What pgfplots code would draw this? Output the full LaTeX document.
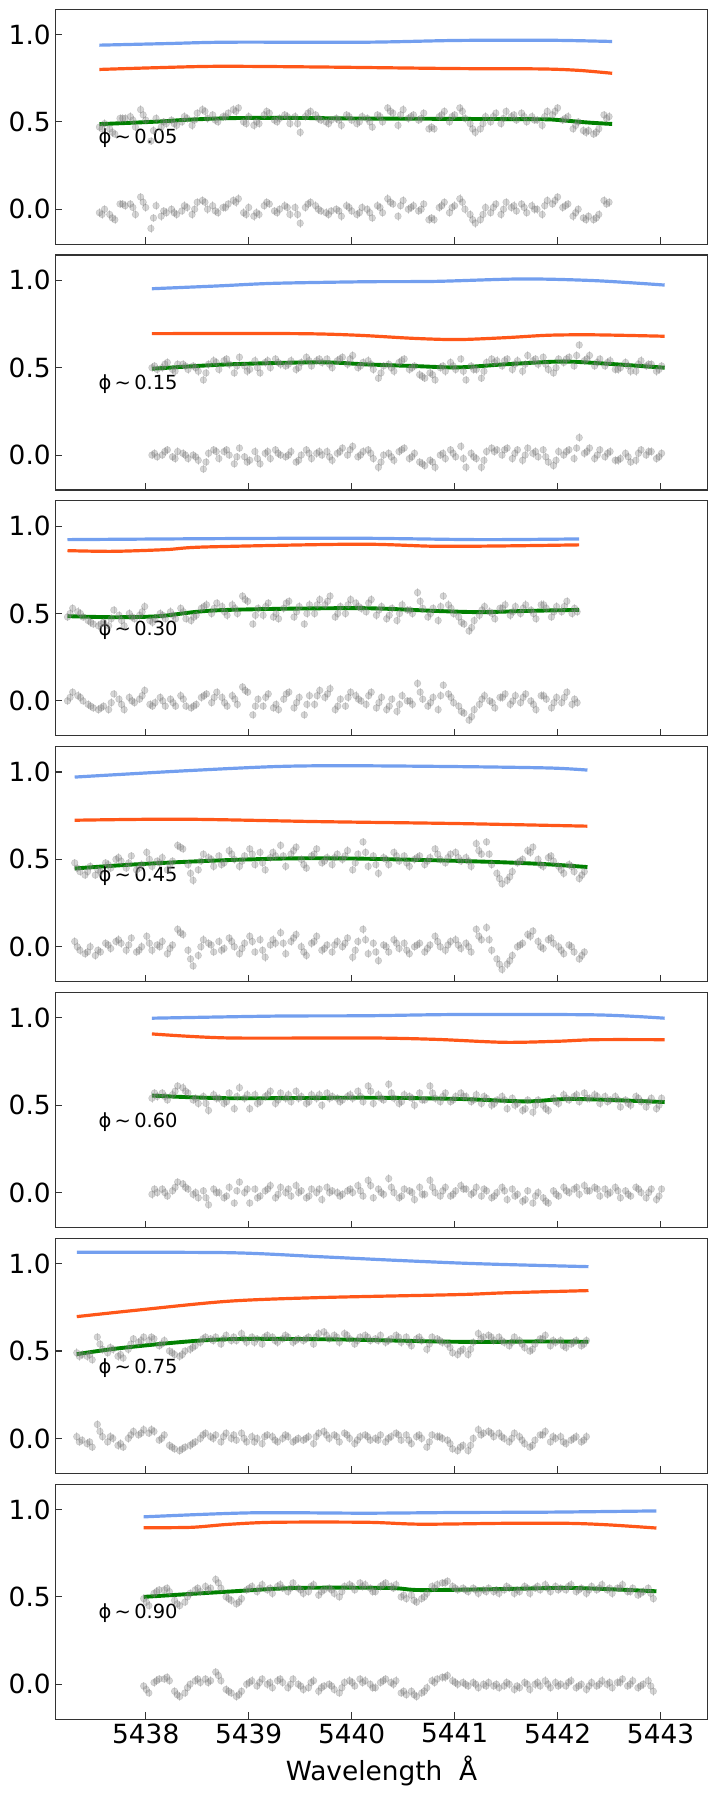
\documentclass[border=0pt]{standalone}
\usepackage{fontspec}
\setmainfont{DejaVu Sans}
\usepackage{pgfplots}
\usepackage{pgfplotstable}
\pgfplotsset{compat=1.18}

\definecolor{cblue}{RGB}{100,149,237}
\definecolor{ored}{RGB}{255,69,0}
\definecolor{mgreen}{RGB}{0,128,0}
\definecolor{spine}{RGB}{51,51,51}

% circle with a short error bar through it
\pgfdeclareplotmark{ebar}{%
  \pgfpathmoveto{\pgfqpoint{0pt}{-3.1pt}}%
  \pgfpathlineto{\pgfqpoint{0pt}{3.1pt}}%
  \pgfusepathqstroke
  \pgfpathcircle{\pgfpointorigin}{\pgfplotmarksize}%
  \pgfusepathqfillstroke}

% columns: wavelength, spectrum, residual
\pgfplotstableread{
x d r
5437.55 0.47 -0.02
5437.60 0.49 0.00
5437.65 0.46 -0.03
5437.70 0.43 -0.06
5437.75 0.52 0.03
5437.80 0.52 0.02
5437.85 0.53 0.03
5437.90 0.47 -0.03
5437.95 0.57 0.07
5438.00 0.51 0.01
5438.05 0.39 -0.11
5438.10 0.52 0.02
5438.15 0.47 -0.04
5438.20 0.49 -0.02
5438.25 0.51 0.00
5438.30 0.48 -0.03
5438.35 0.50 -0.01
5438.40 0.52 0.01
5438.45 0.48 -0.03
5438.50 0.55 0.04
5438.55 0.57 0.05
5438.60 0.52 0.00
5438.65 0.54 0.02
5438.70 0.50 -0.02
5438.75 0.53 0.01
5438.80 0.55 0.03
5438.85 0.57 0.05
5438.90 0.58 0.06
5438.95 0.50 -0.02
5439.00 0.53 0.01
5439.05 0.48 -0.04
5439.10 0.49 -0.03
5439.15 0.54 0.02
5439.20 0.55 0.03
5439.25 0.51 -0.01
5439.30 0.52 0.00
5439.35 0.54 0.02
5439.40 0.49 -0.03
5439.45 0.53 0.01
5439.50 0.44 -0.08
5439.55 0.53 0.01
5439.60 0.56 0.04
5439.65 0.54 0.02
5439.70 0.51 -0.01
5439.75 0.50 -0.02
5439.80 0.51 -0.01
5439.85 0.52 0.00
5439.90 0.48 -0.04
5439.95 0.54 0.02
5440.00 0.51 -0.01
5440.05 0.49 -0.03
5440.10 0.53 0.01
5440.15 0.52 0.00
5440.20 0.47 -0.05
5440.25 0.54 0.02
5440.30 0.50 -0.02
5440.35 0.58 0.06
5440.40 0.55 0.03
5440.45 0.48 -0.04
5440.50 0.57 0.05
5440.55 0.52 0.00
5440.60 0.54 0.02
5440.65 0.51 -0.01
5440.70 0.55 0.03
5440.75 0.46 -0.06
5440.80 0.46 -0.06
5440.85 0.53 0.01
5440.90 0.56 0.04
5440.95 0.50 -0.02
5441.00 0.54 0.02
5441.05 0.58 0.06
5441.10 0.52 0.00
5441.15 0.49 -0.03
5441.20 0.44 -0.08
5441.25 0.46 -0.06
5441.30 0.53 0.01
5441.35 0.50 -0.02
5441.40 0.55 0.03
5441.45 0.49 -0.03
5441.50 0.56 0.04
5441.55 0.53 0.01
5441.60 0.51 -0.01
5441.65 0.55 0.03
5441.70 0.50 -0.02
5441.75 0.53 0.02
5441.80 0.51 0.00
5441.85 0.48 -0.03
5441.90 0.56 0.05
5441.95 0.54 0.03
5442.00 0.58 0.07
5442.05 0.51 0.01
5442.10 0.53 0.03
5442.15 0.46 -0.04
5442.20 0.50 0.00
5442.25 0.45 -0.05
5442.30 0.45 -0.04
5442.35 0.43 -0.06
5442.40 0.46 -0.03
5442.45 0.54 0.05
5442.50 0.53 0.04
5437.575 0.46 -0.03
5437.675 0.44 -0.05
5437.775 0.52 0.03
5437.875 0.51 0.01
5437.975 0.54 0.04
5438.075 0.45 -0.05
5438.175 0.50 -0.01
5438.275 0.49 -0.02
5438.375 0.53 0.02
5438.475 0.51 0.00
5438.575 0.56 0.04
5438.675 0.51 -0.01
5438.775 0.53 0.01
5438.875 0.56 0.04
5438.975 0.49 -0.03
5439.075 0.50 -0.02
5439.175 0.56 0.04
5439.275 0.50 -0.02
5439.375 0.53 0.01
5439.475 0.49 -0.03
5439.575 0.55 0.03
5439.675 0.52 0.00
5439.775 0.49 -0.03
5439.875 0.51 -0.01
5439.975 0.53 0.01
5440.075 0.50 -0.02
5440.175 0.50 -0.02
5440.275 0.53 0.01
5440.375 0.56 0.04
5440.475 0.54 0.02
5440.575 0.53 0.01
5440.675 0.52 0.00
5440.775 0.47 -0.05
5440.875 0.54 0.02
5440.975 0.53 0.01
5441.075 0.56 0.04
5441.175 0.46 -0.06
5441.275 0.49 -0.03
5441.375 0.53 0.01
5441.475 0.52 0.00
5441.575 0.54 0.02
5441.675 0.53 0.01
5441.775 0.51 0.00
5441.875 0.53 0.02
5441.975 0.56 0.05
5442.075 0.52 0.02
5442.175 0.48 -0.02
5442.275 0.44 -0.06
5442.375 0.44 -0.05
5442.475 0.52 0.03
}\phaseA

\pgfplotstableread{
x d r
5438.06 0.50 0.00
5438.11 0.49 -0.01
5438.16 0.50 0.00
5438.21 0.53 0.03
5438.26 0.49 -0.01
5438.31 0.52 0.02
5438.36 0.52 0.01
5438.41 0.49 -0.02
5438.46 0.51 0.00
5438.51 0.48 -0.03
5438.56 0.43 -0.08
5438.61 0.52 0.01
5438.66 0.54 0.03
5438.71 0.49 -0.02
5438.76 0.54 0.02
5438.81 0.52 0.00
5438.86 0.47 -0.05
5438.91 0.56 0.04
5438.96 0.51 -0.01
5439.01 0.49 -0.03
5439.06 0.54 0.02
5439.11 0.47 -0.05
5439.16 0.53 0.01
5439.21 0.50 -0.02
5439.26 0.55 0.03
5439.31 0.52 0.00
5439.36 0.51 -0.01
5439.41 0.54 0.02
5439.46 0.49 -0.04
5439.51 0.53 0.00
5439.56 0.56 0.03
5439.61 0.51 -0.02
5439.66 0.54 0.01
5439.71 0.53 0.00
5439.76 0.55 0.02
5439.81 0.50 -0.03
5439.86 0.54 0.01
5439.91 0.56 0.04
5439.96 0.52 0.00
5440.01 0.57 0.05
5440.06 0.50 -0.01
5440.11 0.53 0.02
5440.16 0.54 0.03
5440.21 0.49 -0.02
5440.26 0.44 -0.07
5440.31 0.51 0.00
5440.36 0.52 0.01
5440.41 0.48 -0.03
5440.46 0.53 0.02
5440.51 0.55 0.04
5440.56 0.49 -0.02
5440.61 0.51 0.01
5440.66 0.46 -0.04
5440.71 0.44 -0.06
5440.76 0.47 -0.03
5440.81 0.43 -0.07
5440.86 0.50 0.00
5440.91 0.48 -0.02
5440.96 0.53 0.03
5441.01 0.49 -0.01
5441.06 0.55 0.05
5441.11 0.43 -0.07
5441.16 0.51 0.01
5441.21 0.49 -0.02
5441.26 0.44 -0.07
5441.31 0.53 0.02
5441.36 0.55 0.04
5441.41 0.54 0.03
5441.46 0.51 0.00
5441.51 0.55 0.04
5441.56 0.49 -0.02
5441.61 0.54 0.03
5441.66 0.48 -0.03
5441.71 0.57 0.04
5441.76 0.54 0.01
5441.81 0.52 -0.01
5441.86 0.56 0.03
5441.91 0.49 -0.04
5441.96 0.47 -0.06
5442.01 0.55 0.02
5442.06 0.53 0.00
5442.11 0.56 0.03
5442.16 0.51 -0.02
5442.21 0.63 0.10
5442.26 0.54 0.01
5442.31 0.57 0.04
5442.36 0.51 -0.02
5442.41 0.55 0.03
5442.46 0.51 -0.01
5442.51 0.54 0.02
5442.56 0.49 -0.03
5442.61 0.50 -0.02
5442.66 0.53 0.01
5442.71 0.48 -0.04
5442.76 0.48 -0.03
5442.81 0.54 0.03
5442.86 0.51 0.00
5442.91 0.52 0.02
5442.96 0.48 -0.02
5443.01 0.51 0.01
5438.085 0.51 0.01
5438.185 0.52 0.02
5438.285 0.48 -0.02
5438.385 0.51 0.00
5438.485 0.50 -0.01
5438.585 0.47 -0.04
5438.685 0.53 0.02
5438.785 0.55 0.03
5438.885 0.51 -0.01
5438.985 0.48 -0.04
5439.085 0.50 -0.02
5439.185 0.54 0.02
5439.285 0.53 0.01
5439.385 0.52 0.00
5439.485 0.50 -0.03
5439.585 0.54 0.01
5439.685 0.55 0.02
5439.785 0.52 -0.01
5439.885 0.55 0.02
5439.985 0.55 0.03
5440.085 0.51 0.00
5440.185 0.52 0.01
5440.285 0.47 -0.04
5440.385 0.50 -0.01
5440.485 0.54 0.03
5440.585 0.50 -0.01
5440.685 0.45 -0.05
5440.785 0.46 -0.04
5440.885 0.51 0.01
5440.985 0.51 0.01
5441.085 0.48 -0.02
5441.185 0.49 -0.01
5441.285 0.48 -0.03
5441.385 0.53 0.02
5441.485 0.54 0.03
5441.585 0.52 0.01
5441.685 0.52 0.00
5441.785 0.55 0.02
5441.885 0.52 -0.01
5441.985 0.50 -0.03
5442.085 0.55 0.02
5442.185 0.57 0.04
5442.285 0.55 0.02
5442.385 0.53 0.00
5442.485 0.53 0.01
5442.585 0.49 -0.03
5442.685 0.51 -0.01
5442.785 0.52 0.01
5442.885 0.52 0.02
5442.985 0.49 -0.01
}\phaseB

\pgfplotstableread{
x d r
5437.24 0.48 0.00
5437.29 0.53 0.05
5437.34 0.51 0.03
5437.39 0.48 0.00
5437.44 0.46 -0.02
5437.49 0.44 -0.04
5437.54 0.43 -0.05
5437.59 0.45 -0.03
5437.64 0.43 -0.05
5437.69 0.52 0.04
5437.74 0.49 0.01
5437.79 0.43 -0.05
5437.84 0.50 0.02
5437.89 0.47 -0.01
5437.94 0.49 0.01
5437.99 0.54 0.06
5438.04 0.46 -0.02
5438.09 0.47 -0.01
5438.14 0.50 0.02
5438.19 0.47 -0.03
5438.24 0.51 0.01
5438.29 0.47 -0.03
5438.34 0.53 0.03
5438.39 0.47 -0.03
5438.44 0.46 -0.04
5438.49 0.49 -0.02
5438.54 0.53 0.02
5438.59 0.55 0.04
5438.64 0.50 -0.01
5438.69 0.56 0.05
5438.74 0.54 0.02
5438.79 0.49 -0.03
5438.84 0.55 0.03
5438.89 0.50 -0.02
5438.94 0.60 0.08
5438.99 0.57 0.05
5439.04 0.44 -0.08
5439.09 0.53 0.01
5439.14 0.49 -0.03
5439.19 0.56 0.04
5439.24 0.48 -0.04
5439.29 0.47 -0.05
5439.34 0.53 0.01
5439.39 0.57 0.05
5439.44 0.48 -0.04
5439.49 0.54 0.02
5439.54 0.44 -0.08
5439.59 0.55 0.03
5439.64 0.50 -0.02
5439.69 0.58 0.06
5439.74 0.55 0.02
5439.79 0.60 0.07
5439.84 0.48 -0.05
5439.89 0.54 0.01
5439.94 0.50 -0.03
5439.99 0.58 0.05
5440.04 0.56 0.03
5440.09 0.53 0.00
5440.14 0.51 -0.02
5440.19 0.58 0.05
5440.24 0.49 -0.04
5440.29 0.54 0.02
5440.34 0.47 -0.05
5440.39 0.53 0.01
5440.44 0.46 -0.06
5440.49 0.55 0.03
5440.54 0.52 0.00
5440.59 0.50 -0.02
5440.64 0.62 0.10
5440.69 0.53 0.01
5440.74 0.48 -0.03
5440.79 0.53 0.02
5440.84 0.46 -0.05
5440.89 0.60 0.09
5440.94 0.55 0.04
5440.99 0.50 -0.01
5441.04 0.48 -0.03
5441.09 0.44 -0.07
5441.14 0.40 -0.11
5441.19 0.46 -0.05
5441.24 0.49 -0.02
5441.29 0.54 0.03
5441.34 0.51 0.00
5441.39 0.47 -0.04
5441.44 0.53 0.02
5441.49 0.55 0.04
5441.54 0.49 -0.02
5441.59 0.54 0.03
5441.64 0.50 -0.01
5441.69 0.55 0.04
5441.74 0.52 0.00
5441.79 0.47 -0.05
5441.84 0.55 0.03
5441.89 0.53 0.01
5441.94 0.48 -0.04
5441.99 0.54 0.02
5442.04 0.51 -0.01
5442.09 0.57 0.05
5442.14 0.50 -0.02
5442.19 0.51 -0.01
5437.265 0.50 0.02
5437.365 0.50 0.02
5437.465 0.45 -0.03
5437.565 0.44 -0.04
5437.665 0.47 -0.01
5437.765 0.46 -0.02
5437.865 0.48 0.00
5437.965 0.51 0.03
5438.065 0.45 -0.03
5438.165 0.49 0.00
5438.265 0.49 -0.01
5438.365 0.51 0.01
5438.465 0.48 -0.03
5438.565 0.54 0.03
5438.665 0.53 0.02
5438.765 0.51 -0.01
5438.865 0.53 0.01
5438.965 0.58 0.06
5439.065 0.49 -0.03
5439.165 0.54 0.02
5439.265 0.50 -0.02
5439.365 0.56 0.04
5439.465 0.51 -0.01
5439.565 0.50 -0.02
5439.665 0.55 0.03
5439.765 0.57 0.04
5439.865 0.50 -0.03
5439.965 0.55 0.02
5440.065 0.54 0.01
5440.165 0.56 0.03
5440.265 0.52 -0.01
5440.365 0.49 -0.03
5440.465 0.50 -0.02
5440.565 0.52 0.00
5440.665 0.57 0.05
5440.765 0.50 -0.01
5440.865 0.54 0.03
5440.965 0.53 0.02
5441.065 0.45 -0.06
5441.165 0.42 -0.09
5441.265 0.52 0.01
5441.365 0.50 -0.01
5441.465 0.53 0.02
5441.565 0.51 0.00
5441.665 0.53 0.02
5441.765 0.50 -0.02
5441.865 0.55 0.03
5441.965 0.51 -0.01
5442.065 0.54 0.02
5442.165 0.53 0.01
}\phaseC

\pgfplotstableread{
x d r
5437.31 0.48 0.03
5437.36 0.43 -0.02
5437.41 0.41 -0.04
5437.46 0.46 0.00
5437.51 0.41 -0.05
5437.56 0.43 -0.03
5437.61 0.48 0.02
5437.66 0.45 -0.01
5437.71 0.50 0.03
5437.76 0.49 0.02
5437.81 0.45 -0.02
5437.86 0.52 0.05
5437.91 0.44 -0.03
5437.96 0.47 0.00
5438.01 0.54 0.06
5438.06 0.46 -0.02
5438.11 0.49 0.01
5438.16 0.51 0.03
5438.21 0.44 -0.04
5438.26 0.49 0.01
5438.31 0.58 0.10
5438.36 0.56 0.07
5438.41 0.47 -0.02
5438.46 0.38 -0.11
5438.51 0.44 -0.05
5438.56 0.53 0.04
5438.61 0.51 0.02
5438.66 0.46 -0.03
5438.71 0.52 0.03
5438.76 0.48 -0.01
5438.81 0.55 0.05
5438.86 0.50 0.00
5438.91 0.46 -0.04
5438.96 0.52 0.02
5439.01 0.56 0.06
5439.06 0.47 -0.03
5439.11 0.54 0.04
5439.16 0.44 -0.06
5439.21 0.51 0.01
5439.26 0.52 0.02
5439.31 0.58 0.08
5439.36 0.46 -0.04
5439.41 0.53 0.03
5439.46 0.57 0.07
5439.51 0.50 0.00
5439.56 0.45 -0.05
5439.61 0.52 0.02
5439.66 0.56 0.06
5439.71 0.48 -0.02
5439.76 0.51 0.01
5439.81 0.47 -0.03
5439.86 0.53 0.03
5439.91 0.50 0.00
5439.96 0.55 0.05
5440.01 0.44 -0.06
5440.06 0.53 0.03
5440.11 0.60 0.10
5440.16 0.46 -0.04
5440.21 0.52 0.02
5440.26 0.42 -0.08
5440.31 0.51 0.01
5440.36 0.47 -0.03
5440.41 0.54 0.04
5440.46 0.49 -0.01
5440.51 0.52 0.02
5440.56 0.46 -0.04
5440.61 0.50 0.00
5440.66 0.52 0.02
5440.71 0.47 -0.03
5440.76 0.51 0.01
5440.81 0.56 0.06
5440.86 0.50 0.00
5440.91 0.48 -0.02
5440.96 0.53 0.03
5441.01 0.54 0.04
5441.06 0.49 -0.01
5441.11 0.51 0.02
5441.16 0.46 -0.03
5441.21 0.59 0.10
5441.26 0.53 0.04
5441.31 0.60 0.11
5441.36 0.47 -0.02
5441.41 0.42 -0.07
5441.46 0.36 -0.13
5441.51 0.38 -0.10
5441.56 0.43 -0.05
5441.61 0.48 0.00
5441.66 0.50 0.02
5441.71 0.55 0.07
5441.76 0.57 0.09
5441.81 0.50 0.03
5441.86 0.46 -0.01
5441.91 0.51 0.04
5441.96 0.49 0.02
5442.01 0.46 0.00
5442.06 0.42 -0.04
5442.11 0.47 0.01
5442.16 0.43 -0.03
5442.21 0.39 -0.07
5442.26 0.43 -0.03
5437.335 0.45 0.00
5437.435 0.43 -0.03
5437.535 0.44 -0.02
5437.635 0.47 0.01
5437.735 0.51 0.04
5437.835 0.48 0.01
5437.935 0.45 -0.02
5438.035 0.50 0.02
5438.135 0.48 0.00
5438.235 0.47 -0.01
5438.335 0.57 0.08
5438.435 0.42 -0.07
5438.535 0.49 0.00
5438.635 0.50 0.01
5438.735 0.47 -0.02
5438.835 0.53 0.03
5438.935 0.49 -0.01
5439.035 0.53 0.03
5439.135 0.48 -0.02
5439.235 0.54 0.04
5439.335 0.52 0.02
5439.435 0.55 0.05
5439.535 0.47 -0.03
5439.635 0.53 0.03
5439.735 0.49 -0.01
5439.835 0.51 0.01
5439.935 0.52 0.02
5440.035 0.48 -0.02
5440.135 0.54 0.04
5440.235 0.47 -0.03
5440.335 0.50 0.00
5440.435 0.52 0.02
5440.535 0.48 -0.02
5440.635 0.51 0.01
5440.735 0.49 -0.01
5440.835 0.53 0.03
5440.935 0.51 0.01
5441.035 0.51 0.01
5441.135 0.49 0.00
5441.235 0.55 0.06
5441.335 0.53 0.04
5441.435 0.39 -0.10
5441.535 0.40 -0.08
5441.635 0.49 0.01
5441.735 0.54 0.06
5441.835 0.47 0.00
5441.935 0.52 0.05
5442.035 0.44 -0.02
5442.135 0.46 0.00
5442.235 0.41 -0.05
}\phaseD

\pgfplotstableread{
x d r
5438.06 0.54 -0.01
5438.11 0.55 0.00
5438.16 0.57 0.02
5438.21 0.53 -0.02
5438.26 0.56 0.01
5438.31 0.61 0.06
5438.36 0.60 0.05
5438.41 0.57 0.02
5438.46 0.53 -0.01
5438.51 0.51 -0.03
5438.56 0.55 0.01
5438.61 0.47 -0.07
5438.66 0.56 0.02
5438.71 0.54 0.00
5438.76 0.51 -0.03
5438.81 0.57 0.03
5438.86 0.48 -0.06
5438.91 0.60 0.06
5438.96 0.54 0.00
5439.01 0.48 -0.06
5439.06 0.56 0.02
5439.11 0.52 -0.02
5439.16 0.55 0.01
5439.21 0.58 0.04
5439.26 0.51 -0.03
5439.31 0.57 0.03
5439.36 0.54 0.00
5439.41 0.52 -0.02
5439.46 0.58 0.04
5439.51 0.55 0.01
5439.56 0.51 -0.03
5439.61 0.56 0.02
5439.66 0.54 0.00
5439.71 0.50 -0.04
5439.76 0.57 0.03
5439.81 0.55 0.01
5439.86 0.54 0.00
5439.91 0.53 -0.01
5439.96 0.55 0.01
5440.01 0.54 0.00
5440.06 0.58 0.04
5440.11 0.52 -0.02
5440.16 0.61 0.07
5440.21 0.51 -0.03
5440.26 0.56 0.02
5440.31 0.53 -0.01
5440.36 0.62 0.08
5440.41 0.54 0.00
5440.46 0.51 -0.03
5440.51 0.56 0.02
5440.56 0.55 0.01
5440.61 0.50 -0.04
5440.66 0.57 0.03
5440.71 0.53 -0.01
5440.76 0.61 0.07
5440.81 0.54 0.00
5440.86 0.52 -0.02
5440.91 0.57 0.03
5440.96 0.52 -0.02
5441.01 0.55 0.01
5441.06 0.57 0.04
5441.11 0.55 0.02
5441.16 0.52 -0.01
5441.21 0.56 0.03
5441.26 0.51 -0.02
5441.31 0.54 0.01
5441.36 0.50 -0.03
5441.41 0.53 0.00
5441.46 0.55 0.03
5441.51 0.48 -0.04
5441.56 0.54 0.02
5441.61 0.51 -0.01
5441.66 0.47 -0.05
5441.71 0.53 0.01
5441.76 0.46 -0.06
5441.81 0.53 0.00
5441.86 0.50 -0.03
5441.91 0.47 -0.06
5441.96 0.54 0.01
5442.01 0.51 -0.02
5442.06 0.56 0.03
5442.11 0.53 0.00
5442.16 0.55 0.02
5442.21 0.52 -0.01
5442.26 0.57 0.04
5442.31 0.54 0.01
5442.36 0.56 0.03
5442.41 0.51 -0.02
5442.46 0.55 0.02
5442.51 0.53 0.00
5442.56 0.55 0.03
5442.61 0.49 -0.03
5442.66 0.53 0.01
5442.71 0.50 -0.02
5442.76 0.55 0.03
5442.81 0.52 0.00
5442.86 0.49 -0.03
5442.91 0.54 0.02
5442.96 0.48 -0.04
5443.01 0.54 0.02
5438.085 0.57 0.02
5438.185 0.55 0.00
5438.285 0.58 0.03
5438.385 0.58 0.03
5438.485 0.54 0.00
5438.585 0.51 -0.03
5438.685 0.54 0.00
5438.785 0.52 -0.02
5438.885 0.55 0.01
5438.985 0.56 0.02
5439.085 0.51 -0.03
5439.185 0.56 0.02
5439.285 0.53 -0.01
5439.385 0.56 0.02
5439.485 0.54 0.00
5439.585 0.52 -0.02
5439.685 0.56 0.02
5439.785 0.54 0.00
5439.885 0.52 -0.02
5439.985 0.56 0.02
5440.085 0.55 0.01
5440.185 0.58 0.04
5440.285 0.54 0.00
5440.385 0.57 0.03
5440.485 0.52 -0.02
5440.585 0.54 0.00
5440.685 0.53 -0.01
5440.785 0.57 0.03
5440.885 0.55 0.01
5440.985 0.53 -0.01
5441.085 0.55 0.02
5441.185 0.53 0.00
5441.285 0.55 0.02
5441.385 0.51 -0.02
5441.485 0.53 0.01
5441.585 0.50 -0.02
5441.685 0.48 -0.04
5441.785 0.50 -0.02
5441.885 0.48 -0.05
5441.985 0.52 -0.01
5442.085 0.54 0.01
5442.185 0.56 0.03
5442.285 0.54 0.01
5442.385 0.55 0.02
5442.485 0.52 -0.01
5442.585 0.53 0.01
5442.685 0.51 -0.01
5442.785 0.54 0.02
5442.885 0.52 0.00
5442.985 0.50 -0.02
}\phaseE

\pgfplotstableread{
x d r
5437.33 0.49 0.01
5437.38 0.48 -0.01
5437.43 0.47 -0.03
5437.48 0.45 -0.05
5437.53 0.58 0.08
5437.58 0.51 0.01
5437.63 0.49 -0.02
5437.68 0.51 0.00
5437.73 0.47 -0.04
5437.78 0.46 -0.05
5437.83 0.51 0.00
5437.88 0.57 0.04
5437.93 0.55 0.02
5437.98 0.58 0.05
5438.03 0.56 0.03
5438.08 0.57 0.04
5438.13 0.53 -0.01
5438.18 0.56 0.02
5438.23 0.50 -0.04
5438.28 0.48 -0.06
5438.33 0.47 -0.07
5438.38 0.50 -0.05
5438.43 0.51 -0.04
5438.48 0.53 -0.02
5438.53 0.55 0.00
5438.58 0.58 0.03
5438.63 0.57 0.01
5438.68 0.58 0.02
5438.73 0.54 -0.02
5438.78 0.59 0.03
5438.83 0.56 0.00
5438.88 0.56 -0.01
5438.93 0.60 0.03
5438.98 0.55 -0.02
5439.03 0.58 0.01
5439.08 0.57 0.00
5439.13 0.54 -0.03
5439.18 0.59 0.02
5439.23 0.58 0.01
5439.28 0.55 -0.02
5439.33 0.57 0.00
5439.38 0.58 0.01
5439.43 0.55 -0.02
5439.48 0.57 0.00
5439.53 0.56 -0.01
5439.58 0.58 0.01
5439.63 0.54 -0.03
5439.68 0.60 0.03
5439.73 0.61 0.04
5439.78 0.57 0.00
5439.83 0.59 0.02
5439.88 0.55 -0.02
5439.93 0.60 0.03
5439.98 0.57 0.00
5440.03 0.54 -0.03
5440.08 0.58 0.01
5440.13 0.59 0.02
5440.18 0.56 -0.01
5440.23 0.57 0.00
5440.28 0.59 0.02
5440.33 0.55 -0.02
5440.38 0.57 0.01
5440.43 0.59 0.03
5440.48 0.55 -0.01
5440.53 0.58 0.02
5440.58 0.53 -0.03
5440.63 0.57 0.01
5440.68 0.56 0.00
5440.73 0.51 -0.05
5440.78 0.58 0.02
5440.83 0.57 0.01
5440.88 0.55 0.00
5440.93 0.54 -0.01
5440.98 0.49 -0.06
5441.03 0.48 -0.07
5441.08 0.51 -0.04
5441.13 0.48 -0.07
5441.18 0.55 0.00
5441.23 0.60 0.05
5441.28 0.58 0.03
5441.33 0.59 0.04
5441.38 0.56 0.01
5441.43 0.58 0.03
5441.48 0.55 0.00
5441.53 0.53 -0.02
5441.58 0.58 0.03
5441.63 0.56 0.01
5441.68 0.52 -0.03
5441.73 0.50 -0.05
5441.78 0.54 -0.01
5441.83 0.57 0.02
5441.88 0.59 0.04
5441.93 0.53 -0.02
5441.98 0.55 0.00
5442.03 0.56 0.01
5442.08 0.52 -0.03
5442.13 0.54 -0.01
5442.18 0.56 0.01
5442.23 0.53 -0.02
5442.28 0.56 0.01
5437.355 0.47 -0.02
5437.455 0.48 -0.02
5437.555 0.54 0.04
5437.655 0.52 0.01
5437.755 0.48 -0.03
5437.855 0.54 0.02
5437.955 0.56 0.03
5438.055 0.58 0.05
5438.155 0.54 0.00
5438.255 0.49 -0.05
5438.355 0.48 -0.06
5438.455 0.52 -0.03
5438.555 0.57 0.02
5438.655 0.56 0.00
5438.755 0.57 0.01
5438.855 0.58 0.02
5438.955 0.57 0.00
5439.055 0.55 -0.02
5439.155 0.58 0.01
5439.255 0.56 -0.01
5439.355 0.59 0.02
5439.455 0.56 -0.01
5439.555 0.57 0.00
5439.655 0.58 0.01
5439.755 0.59 0.02
5439.855 0.58 0.01
5439.955 0.59 0.02
5440.055 0.56 -0.01
5440.155 0.58 0.01
5440.255 0.56 -0.01
5440.355 0.56 0.00
5440.455 0.58 0.02
5440.555 0.55 -0.01
5440.655 0.58 0.02
5440.755 0.54 -0.02
5440.855 0.56 0.01
5440.955 0.52 -0.03
5441.055 0.50 -0.05
5441.155 0.51 -0.04
5441.255 0.57 0.02
5441.355 0.58 0.03
5441.455 0.56 0.01
5441.555 0.55 0.00
5441.655 0.54 -0.01
5441.755 0.51 -0.04
5441.855 0.57 0.02
5441.955 0.56 0.01
5442.055 0.53 -0.02
5442.155 0.55 0.00
5442.255 0.54 -0.01
}\phaseF

\pgfplotstableread{
x d r
5437.98 0.49 -0.01
5438.03 0.45 -0.05
5438.08 0.52 0.01
5438.13 0.54 0.03
5438.18 0.54 0.03
5438.23 0.53 0.02
5438.28 0.48 -0.04
5438.33 0.45 -0.07
5438.38 0.47 -0.05
5438.43 0.52 0.00
5438.48 0.54 0.02
5438.53 0.53 0.01
5438.58 0.56 0.03
5438.63 0.55 0.02
5438.68 0.60 0.07
5438.73 0.55 0.02
5438.78 0.50 -0.03
5438.83 0.48 -0.05
5438.88 0.46 -0.07
5438.93 0.49 -0.04
5438.98 0.54 0.00
5439.03 0.56 0.02
5439.08 0.53 -0.01
5439.13 0.57 0.03
5439.18 0.54 0.00
5439.23 0.52 -0.02
5439.28 0.56 0.02
5439.33 0.55 0.01
5439.38 0.53 -0.02
5439.43 0.58 0.03
5439.48 0.55 0.00
5439.53 0.52 -0.03
5439.58 0.53 -0.02
5439.63 0.57 0.02
5439.68 0.51 -0.04
5439.73 0.54 -0.01
5439.78 0.55 0.00
5439.83 0.52 -0.03
5439.88 0.50 -0.05
5439.93 0.56 0.01
5439.98 0.57 0.02
5440.03 0.54 -0.01
5440.08 0.58 0.03
5440.13 0.57 0.02
5440.18 0.55 0.00
5440.23 0.53 -0.02
5440.28 0.56 0.01
5440.33 0.58 0.03
5440.38 0.56 0.01
5440.43 0.57 0.02
5440.48 0.50 -0.05
5440.53 0.49 -0.06
5440.58 0.51 -0.04
5440.63 0.47 -0.07
5440.68 0.49 -0.05
5440.73 0.52 -0.02
5440.78 0.56 0.02
5440.83 0.57 0.03
5440.88 0.58 0.04
5440.93 0.59 0.05
5440.98 0.56 0.02
5441.03 0.54 0.00
5441.08 0.55 0.01
5441.13 0.53 -0.01
5441.18 0.55 0.01
5441.23 0.52 -0.02
5441.28 0.54 0.00
5441.33 0.55 0.01
5441.38 0.53 -0.01
5441.43 0.52 -0.02
5441.48 0.54 -0.01
5441.53 0.55 0.00
5441.58 0.52 -0.03
5441.63 0.53 -0.02
5441.68 0.56 0.01
5441.73 0.52 -0.03
5441.78 0.55 0.00
5441.83 0.54 -0.01
5441.88 0.57 0.02
5441.93 0.53 -0.02
5441.98 0.56 0.01
5442.03 0.55 0.00
5442.08 0.54 -0.01
5442.13 0.57 0.02
5442.18 0.53 -0.02
5442.23 0.55 0.00
5442.28 0.52 -0.03
5442.33 0.56 0.01
5442.38 0.54 -0.01
5442.43 0.57 0.02
5442.48 0.54 0.00
5442.53 0.52 -0.02
5442.58 0.55 0.01
5442.63 0.57 0.03
5442.68 0.53 -0.01
5442.73 0.55 0.02
5442.78 0.51 -0.02
5442.83 0.53 0.00
5442.88 0.55 0.02
5442.93 0.49 -0.04
5438.005 0.47 -0.03
5438.105 0.53 0.02
5438.205 0.55 0.04
5438.305 0.46 -0.06
5438.405 0.50 -0.02
5438.505 0.55 0.03
5438.605 0.54 0.01
5438.705 0.58 0.05
5438.805 0.49 -0.04
5438.905 0.47 -0.06
5439.005 0.55 0.01
5439.105 0.55 0.01
5439.205 0.55 0.01
5439.305 0.57 0.03
5439.405 0.55 0.00
5439.505 0.54 -0.01
5439.605 0.56 0.01
5439.705 0.53 -0.02
5439.805 0.54 -0.01
5439.905 0.53 -0.02
5440.005 0.56 0.01
5440.105 0.56 0.01
5440.205 0.53 -0.02
5440.305 0.57 0.02
5440.405 0.55 0.00
5440.505 0.51 -0.04
5440.605 0.48 -0.06
5440.705 0.50 -0.04
5440.805 0.55 0.01
5440.905 0.58 0.04
5441.005 0.55 0.01
5441.105 0.54 0.00
5441.205 0.54 0.00
5441.305 0.53 -0.01
5441.405 0.54 0.00
5441.505 0.56 0.01
5441.605 0.54 -0.01
5441.705 0.55 0.00
5441.805 0.56 0.01
5441.905 0.55 0.00
5442.005 0.54 -0.01
5442.105 0.56 0.01
5442.205 0.54 -0.01
5442.305 0.54 -0.01
5442.405 0.55 0.00
5442.505 0.55 0.01
5442.605 0.55 0.01
5442.705 0.53 0.00
5442.805 0.52 -0.01
5442.905 0.52 -0.01
}\phaseG

\pgfplotsset{
  panel/.style={
    width=470pt, height=169.2pt, scale only axis,
    anchor=north west,
    xmin=5437.12, xmax=5443.46, ymin=-0.2, ymax=1.145,
    xtick={5438,5439,5440,5441,5442,5443}, xticklabels={},
    ytick={0,0.5,1}, yticklabels={0.0,0.5,1.0},
    tick align=inside, xtick pos=left, ytick pos=left,
    major tick length=5pt,
    tick style={spine, line width=0.8pt},
    axis line style={spine, line width=0.8pt},
    tick label style={font=\fontsize{19}{22}\selectfont, inner sep=0pt},
    yticklabel style={xshift=-3pt},
    xticklabel style={yshift=-3pt},
  },
  bluefit/.style={cblue, line width=2.3pt, smooth, mark=none, opacity=0.9},
  redfit/.style={ored, line width=2.3pt, smooth, mark=none, opacity=0.9},
  greenfit/.style={mgreen, line width=2.8pt, smooth, mark=none},
  spec/.style={only marks, mark=ebar, mark size=2.4pt,
    draw=gray, fill=gray, fill opacity=0.33, draw opacity=0.3, line width=0.4pt},
}
\tikzset{phase/.style={anchor=west, inner sep=0pt, font=\fontsize{14}{16}\selectfont}}

% #1 row, #2 table, #3 blue, #4 red, #5 green, #6 label, #7 extra options
\newcommand{\phasepanel}[7]{%
  \begin{axis}[panel, at={(0pt,-#1*177pt)}, #7]
    \addplot[bluefit] coordinates {#3};
    \addplot[redfit] coordinates {#4};
    \addplot[spec] table[x=x, y=d] {#2};
    \addplot[spec] table[x=x, y=r] {#2};
    \addplot[greenfit] coordinates {#5};
    \node[phase] at (axis cs:5437.54,0.405) {#6};
  \end{axis}}

\begin{document}
\begin{tikzpicture}
\path[use as bounding box] (-39.7pt,6.6pt) rectangle (478.7pt,-1289.4pt);

\phasepanel{0}{\phaseA}
  {(5437.55,0.939) (5438.2,0.948) (5438.8,0.956) (5440.14,0.956) (5441.03,0.966) (5441.93,0.967) (5442.53,0.960)}
  {(5437.55,0.800) (5438.1,0.810) (5438.71,0.818) (5439.69,0.814) (5441.03,0.805) (5441.83,0.803) (5442.2,0.795) (5442.53,0.778)}
  {(5437.55,0.487) (5438.13,0.502) (5438.4,0.512) (5438.8,0.521) (5439.3,0.523) (5440.14,0.519) (5441.03,0.517) (5441.83,0.515) (5442.0,0.511) (5442.3,0.496) (5442.53,0.488)}
  {ϕ\,∼\,0.05}{}

\phasepanel{1}{\phaseB}
  {(5438.06,0.952) (5438.7,0.968) (5439.25,0.983) (5440.14,0.992) (5440.81,0.994) (5441.66,1.008) (5442.37,0.998) (5443.04,0.973)}
  {(5438.06,0.695) (5439.46,0.695) (5440.05,0.686) (5440.6,0.668) (5441.03,0.661) (5441.5,0.672) (5441.92,0.686) (5442.37,0.688) (5443.04,0.680)}
  {(5438.06,0.494) (5438.8,0.519) (5439.69,0.531) (5440.14,0.519) (5440.58,0.510) (5441.03,0.502) (5441.48,0.519) (5442.01,0.535) (5442.37,0.527) (5443.04,0.500)}
  {ϕ\,∼\,0.15}{}

\phasepanel{2}{\phaseC}
  {(5437.24,0.923) (5438.8,0.929) (5440.05,0.931) (5441.25,0.923) (5442.21,0.927)}
  {(5437.24,0.860) (5437.68,0.856) (5438.2,0.866) (5438.58,0.881) (5440.05,0.897) (5440.81,0.885) (5441.48,0.887) (5442.21,0.893)}
  {(5437.24,0.485) (5437.68,0.479) (5438.13,0.485) (5438.71,0.519) (5440.05,0.531) (5440.81,0.515) (5441.25,0.508) (5441.7,0.515) (5442.21,0.521)}
  {ϕ\,∼\,0.30}{}

\phasepanel{3}{\phaseD}
  {(5437.31,0.971) (5438.35,1.006) (5439.25,1.031) (5439.92,1.036) (5441.03,1.031) (5441.92,1.023) (5442.29,1.011)}
  {(5437.31,0.724) (5438.35,0.730) (5439.69,0.716) (5441.03,0.705) (5442.29,0.690)}
  {(5437.31,0.448) (5437.8,0.468) (5438.35,0.485) (5438.9,0.498) (5439.46,0.506) (5440.0,0.505) (5440.58,0.498) (5441.0,0.492) (5441.48,0.483) (5441.9,0.472) (5442.29,0.456)}
  {ϕ\,∼\,0.45}{}

\phasepanel{4}{\phaseE}
  {(5438.06,0.998) (5439.25,1.010) (5440.14,1.012) (5441.03,1.019) (5442.37,1.017) (5443.04,0.998)}
  {(5438.06,0.908) (5438.8,0.885) (5440.14,0.885) (5440.81,0.877) (5441.48,0.860) (5442.0,0.866) (5442.37,0.875) (5443.04,0.875)}
  {(5438.06,0.555) (5438.8,0.540) (5440.14,0.543) (5441.03,0.536) (5441.7,0.522) (5442.15,0.536) (5443.04,0.518)}
  {ϕ\,∼\,0.60}{}

\phasepanel{5}{\phaseF}
  {(5437.33,1.065) (5438.8,1.063) (5439.69,1.040) (5440.4,1.020) (5441.03,1.004) (5441.5,0.995) (5442.30,0.983)}
  {(5437.33,0.697) (5437.90,0.733) (5438.80,0.785) (5439.69,0.806) (5441.03,0.823) (5441.48,0.833) (5442.30,0.846)}
  {(5437.33,0.482) (5437.67,0.511) (5438.13,0.540) (5438.58,0.562) (5439.03,0.570) (5439.92,0.566) (5440.81,0.555) (5441.26,0.552) (5441.8,0.555) (5442.30,0.553)}
  {ϕ\,∼\,0.75}{}

\phasepanel{6}{\phaseG}
  {(5437.98,0.958) (5439.02,0.981) (5440.14,0.979) (5441.03,0.983) (5441.92,0.985) (5442.96,0.992)}
  {(5437.98,0.896) (5438.44,0.898) (5438.8,0.915) (5439.25,0.927) (5440.14,0.927) (5440.67,0.916) (5441.48,0.921) (5442.10,0.921) (5442.5,0.912) (5442.96,0.894)}
  {(5437.98,0.500) (5438.8,0.530) (5439.46,0.551) (5440.36,0.551) (5440.67,0.539) (5441.48,0.545) (5442.15,0.551) (5442.96,0.532)}
  {ϕ\,∼\,0.90}
  {xticklabels={5438,5439,5440,5441,5442,5443},
   xlabel={Wavelength\ \ Å},
   xlabel style={at={(axis description cs:0.5,0)}, anchor=base, yshift=-43.9pt,
     inner sep=0pt, font=\fontsize{19}{22}\selectfont}}

\end{tikzpicture}
\end{document}
